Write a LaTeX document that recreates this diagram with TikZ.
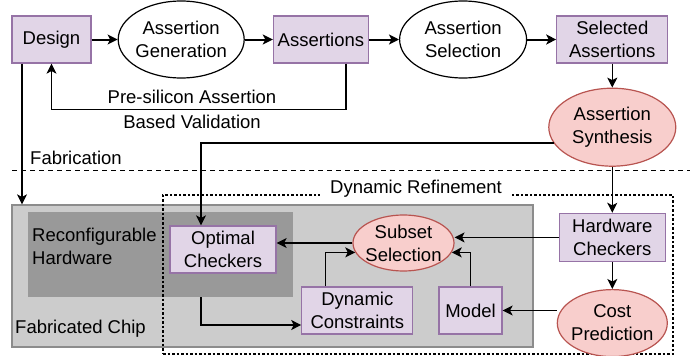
\documentclass[tikz,border=0pt]{standalone}
\usepackage{fontspec}
\setmainfont{Liberation Sans}
\usetikzlibrary{arrows.meta, positioning, shapes.geometric}
\usepackage{xcolor}
\definecolor{cklilac}{HTML}{9673A6}
\definecolor{cklilacfill}{HTML}{E1D5E7}
\definecolor{ckred}{HTML}{B85450}
\definecolor{ckredfill}{HTML}{F8CECC}
\definecolor{ckchip}{HTML}{CCCCCC}
\definecolor{ckchipline}{HTML}{8C8C8C}
\definecolor{ckreconf}{HTML}{999999}

\begin{document}
\begin{tikzpicture}[
    x=1pt, y=-1pt,
    font=\fontsize{18.5}{23}\selectfont,
    box/.style={rectangle, draw=cklilac, fill=cklilacfill, line width=1.2pt,
                inner sep=0pt, align=center, minimum height=47pt, minimum width=#1},
    oval/.style={ellipse, draw=black, fill=white, line width=1.2pt, inner ysep=0pt,
                 inner xsep=-6pt, align=center, minimum width=126pt, minimum height=77pt},
    hot/.style 2 args={ellipse, draw=ckred, fill=ckredfill, line width=1.2pt, inner ysep=0pt,
                       inner xsep=-6pt, align=center, minimum width=#1, minimum height=#2},
    area/.style={rectangle, inner sep=0pt},
    lbl/.style={inner sep=0pt, align=left},
    arrow/.style={-{Stealth[length=10pt, width=10pt, inset=2.5pt]}, line width=1.2pt},
    flow/.style={arrow, line width=2pt}
  ]
    \useasboundingbox (0,0) rectangle (697,356);

    % fabrication boundary
    \coordinate (fabL) at (12,170);
    \coordinate (fabR) at (690,170);
    \draw[dash pattern=on 5pt off 4pt, line width=1pt] (fabL) -- (fabR);
    \node[lbl, anchor=west] (fablbl) at (30,158) {Fabrication};

    % chip and refinement regions
    \node[area, draw=ckchipline, fill=ckchip, line width=1.2pt,
          minimum width=521pt, minimum height=142pt] (chip) at (272.5,276) {};
    \node[area, fill=ckreconf, minimum width=265pt, minimum height=85pt] (reconf) at (160.5,254.5) {};
    \node[area, draw=black, line width=2.5pt, dash pattern=on 2.5pt off 2pt,
          minimum width=510pt, minimum height=159pt] (refine) at (418,274.5) {};
    \node[lbl, fill=white, inner xsep=10pt, inner ysep=1pt] (refinelbl) at (416,189) {Dynamic Refinement};
    \node[lbl, anchor=west] (reconflbl) at (32,246.5) {Reconfigurable\\Hardware};
    \node[lbl, anchor=west] (chiplbl) at (15,329) {Fabricated Chip};

    % pre-silicon flow
    \node[box=79pt] (design) at (51.5,39.5) {Design};
    \node[oval, right=26pt of design] (gen) {Assertion\\Generation};
    \node[box=95pt, right=28pt of gen] (asrt) {Assertions};
    \node[oval, minimum width=127pt, right=30pt of asrt] (sel) {Assertion\\Selection};
    \node[box=111pt, right=29pt of sel] (selasrt) {Selected\\Assertions};
    \node[hot={127pt}{78pt}, below=24pt of selasrt] (synth) {Assertion\\Synthesis};
    \node[lbl, align=center] (valid) at (192,109.5) {Pre-silicon Assertion\\[2pt]Based Validation};

    % post-silicon flow
    \node[box=106pt, minimum height=48pt, below=46pt of synth] (hwchk) {Hardware\\Checkers};
    \node[hot={110pt}{67pt}, below=27pt of hwchk] (cost) {Cost\\Prediction};
    \node[box=63pt] (model) at (470.5,310.5) {Model};
    \node[box=111pt, left=25pt of model] (dyncon) {Dynamic\\Constraints};
    \node[hot={101pt}{56pt}] (subset) at (403.5,243) {Subset\\Selection};
    \node[box=106pt] (optchk) at (223,249.5) {Optimal\\Checkers};

    \draw[flow] (design) -- (gen);
    \draw[flow] (gen) -- (asrt);
    \draw[flow] (asrt) -- (sel);
    \draw[flow] (sel) -- (selasrt);
    \draw[arrow] (selasrt) -- (synth);
    \draw[arrow] ([xshift=25pt]asrt.south) |- (valid.center) -| (design.south);
    \draw[arrow] ([xshift=-29.5pt]design.south) -- ([xshift=-29.5pt]design.south |- chip.north);
    \draw[arrow] (synth.195) -| ([xshift=-22pt]optchk.north);
    \draw[arrow] (synth) -- (hwchk);
    \draw[arrow] (hwchk.west) -- (hwchk -| subset.east);
    \draw[arrow] (hwchk) -- (cost);
    \draw[arrow] (cost.west |- model) -- (model);
    \draw[arrow] (model.north) |- (subset.-11);
    \draw[arrow] ([xshift=-31.5pt]dyncon.north) |- (subset.191);
    \draw[arrow] (subset.west) -- (subset.west -| optchk.east);
    \draw[arrow] ([xshift=40.5pt]reconf.south) |- ([yshift=-14.5pt]dyncon.west);
  \end{tikzpicture}
\end{document}
